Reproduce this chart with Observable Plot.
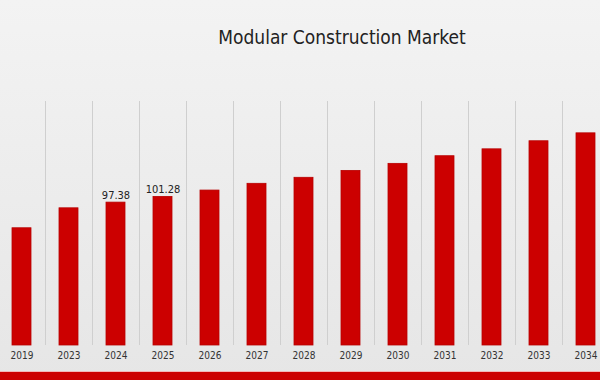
<!DOCTYPE html>
<html>
<head>
<meta charset="utf-8">
<script src="https://cdn.jsdelivr.net/npm/d3@7"></script>
<script src="https://cdn.jsdelivr.net/npm/@observablehq/plot@0.6"></script>
<style>
  html, body { margin: 0; padding: 0; }
  #wrap {
    position: relative; width: 600px; height: 380px; overflow: hidden;
    background: linear-gradient(180deg, #f3f3f3 0%, #ebebeb 60%, #e6e6e6 100%);
    font-family: "DejaVu Sans Condensed", "DejaVu Sans", sans-serif;
  }
  #title {
    position: absolute; left: 0; width: 684px; top: 26px; text-align: center;
    font-size: 19px; color: #222; font-stretch: condensed;
  }
  #band { position: absolute; left: 0; right: 0; bottom: 0; height: 8px; background: #cc0000; border-top: 1px solid #f2b8b8; }
  #chart { position: absolute; left: 0; top: 0; }
</style>
</head>
<body>
<div id="wrap">
  <div id="chart"></div>
  <div id="title">Modular Construction Market</div>
  <div id="band"></div>
</div>
<script>
const years = ["2019","2023","2024","2025","2026","2027","2028","2029","2030","2031","2032","2033","2034"];
const values = [79.9, 93.5, 97.38, 101.28, 105.6, 110.2, 114.3, 119.0, 123.8, 129.0, 133.7, 139.2, 144.6];
const labelYears = ["2024", "2025"];
const labelTexts = ["97.38", "101.28"];

const data = years.map((y, i) => ({year: y, value: values[i]}));
const labels = data.filter(d => labelYears.includes(d.year)).map(d => ({...d, text: labelTexts[labelYears.indexOf(d.year)]}));
const yMax = 166.3;

const chart = Plot.plot({
  width: 600,
  height: 380,
  marginTop: 101,
  marginBottom: 35,
  marginLeft: 0,
  marginRight: 0,
  style: {background: "transparent", fontFamily: "'DejaVu Sans Condensed', 'DejaVu Sans', sans-serif", fontSize: "10px", color: "#333"},
  x: {domain: years, range: [-2.5, 608.5], padding: 0, label: null, tickSize: 0, tickPadding: 6},
  y: {domain: [0, yMax], axis: null},
  marks: [
    Plot.ruleX(years, {x: d => d, y1: 0, y2: yMax, dx: 23.5, stroke: "#cfcfcf", strokeWidth: 1}),
    Plot.barY(data, {x: "year", y: "value", fill: "#cc0000", stroke: "#b80000", strokeWidth: 0.8, insetLeft: 14, insetRight: 14}),
    Plot.text(labels, {x: "year", y: "value", text: "text", dy: -7, fill: "#222", fontSize: 11})
  ]
});
document.getElementById("chart").appendChild(chart);
</script>
</body>
</html>
